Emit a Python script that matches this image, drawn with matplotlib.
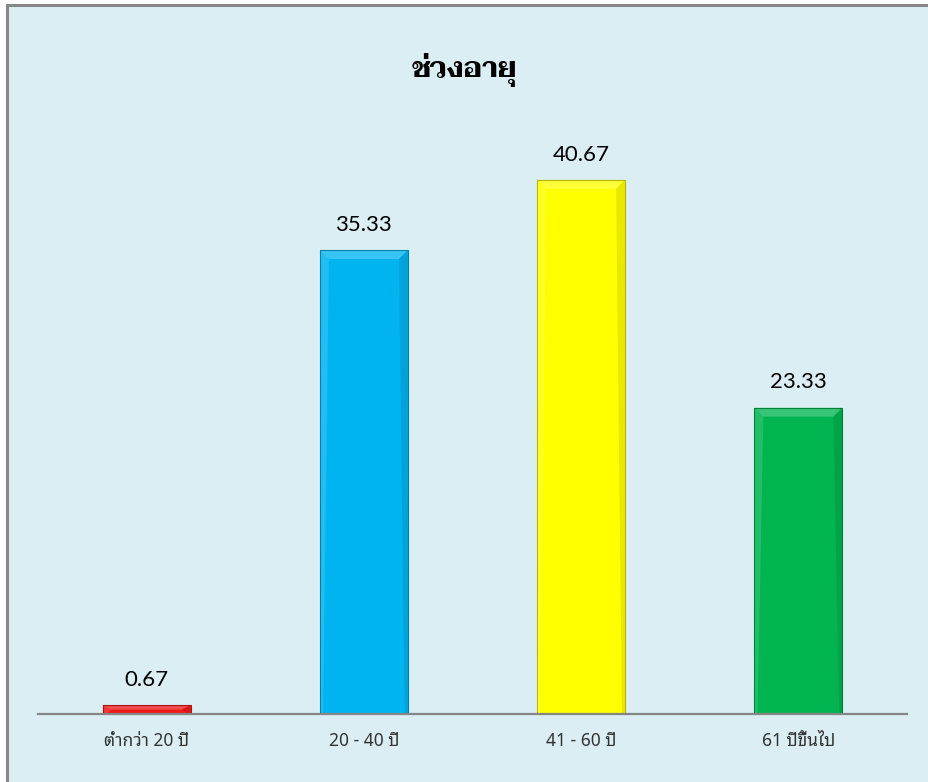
import matplotlib
matplotlib.use("Agg")
import matplotlib.pyplot as plt
from matplotlib.patches import Rectangle, Polygon
import matplotlib.colors as mcolors

# ---- data ----
title = "ช่วงอายุ"
categories = ["ต่ำกว่า 20 ปี", "20 - 40 ปี", "41 - 60 ปี", "61 ปีขึ้นไป"]
values = [0.67, 35.33, 40.67, 23.33]
bar_colors = ["#EE1A1A", "#00B4F0", "#FFFF00", "#00B450"]

W, H = 929, 782
fig = plt.figure(figsize=(W / 100, H / 100), dpi=100)
fig.patch.set_facecolor("white")

# chart area background with gray border (extends beyond the right/bottom edge)
fig.patches.append(Rectangle((7 / W, -0.01), 1.02 - 7 / W, 1 - 5 / H + 0.01,
                             transform=fig.transFigure, facecolor="#DAEEF3",
                             edgecolor="#878787", linewidth=2.2, zorder=-5))

ax = fig.add_axes([38 / W, 1 - 714 / H, (907 - 38) / W, (714 - 123) / H])
ax.set_facecolor("none")
ax.set_zorder(2)
x = list(range(len(categories)))
bw = 0.405
bars = ax.bar(x, values, width=bw, color=bar_colors, zorder=3,
              edgecolor="none")

ax.set_xlim(-0.5, len(categories) - 0.5)
ax.set_ylim(0, 45)

# bevel effect computed from each bar's own geometry
fig.canvas.draw()
inv = ax.transData.inverted()
for b, c in zip(bars, bar_colors):
    x0, y0, w, h = b.get_x(), b.get_y(), b.get_width(), b.get_height()
    p0 = ax.transData.transform((x0, y0))
    dx = inv.transform((p0[0] + 9, p0[1]))[0] - x0
    dy = y0 - inv.transform((p0[0], p0[1] - 9))[1]
    dy = min(dy, h / 2)
    dx = min(dx, w / 2)
    rgb = mcolors.to_rgb(c)
    light = tuple(min(1, v * 0.55 + 0.45) for v in rgb)
    dark = tuple(v * 0.72 for v in rgb)
    mid_dark = tuple(v * 0.85 for v in rgb)
    ax.add_patch(Polygon([(x0, y0 + h), (x0 + w, y0 + h), (x0 + w - dx, y0 + h - dy),
                          (x0 + dx, y0 + h - dy)], closed=True, facecolor=light,
                         edgecolor="none", alpha=0.5, zorder=4))
    ax.add_patch(Polygon([(x0 + w, y0 + h), (x0 + w, y0), (x0 + w - dx * 0.35, y0),
                          (x0 + w - dx, y0 + h - dy)], closed=True, facecolor=mid_dark,
                         edgecolor="none", alpha=0.6, zorder=4))
    ax.add_patch(Polygon([(x0, y0 + h), (x0, y0), (x0 + dx * 0.35, y0),
                          (x0 + dx, y0 + h - dy)], closed=True, facecolor=light,
                         edgecolor="none", alpha=0.3, zorder=4))
    ax.add_patch(Rectangle((x0, y0), w, h, facecolor="none", edgecolor=dark,
                           linewidth=0.8, zorder=5))

for xi, v in zip(x, values):
    ax.annotate(f"{v:.2f}", (xi, v), xytext=(0, 11), textcoords="offset points",
                ha="center", va="bottom", fontsize=16, family=["Lato", "DejaVu Sans"],
                color="#000000")

for s in ["top", "right", "left"]:
    ax.spines[s].set_visible(False)
ax.spines["bottom"].set_color("#868686")
ax.spines["bottom"].set_linewidth(1.6)
ax.spines["bottom"].set_zorder(6)
ax.set_yticks([])
ax.set_xticks(x)
ax.set_xticklabels(categories, family=["Noto Sans Thai Looped", "DejaVu Sans"],
                   fontsize=12.5, color="#333333")
ax.tick_params(axis="x", length=0, pad=13)

fig.text(0.5, 1 - 70 / H, title, ha="center", va="center", fontsize=20.5,
         fontweight="bold", family=["Taviraj", "DejaVu Serif"], color="#000000")

fig.savefig("out.png", dpi=100, facecolor=fig.get_facecolor())
